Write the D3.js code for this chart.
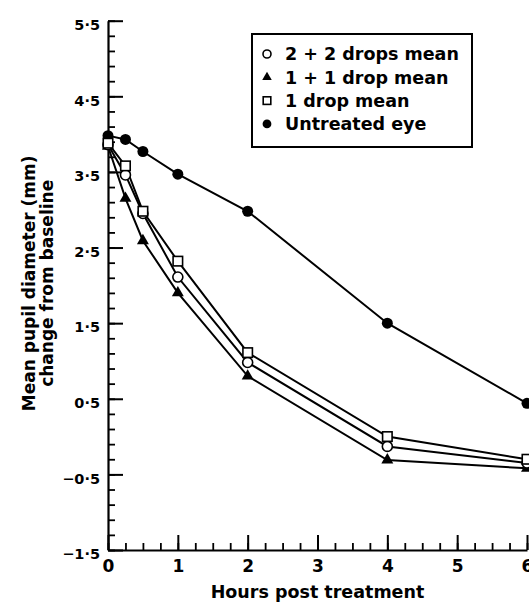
<!DOCTYPE html>
<html>
<head>
<meta charset="utf-8">
<script src="https://cdn.jsdelivr.net/npm/d3@7"></script>
<style>
  html, body { margin: 0; padding: 0; background: #fff; }
  svg { display: block; }
  text { font-family: "DejaVu Sans", "Liberation Sans", Arial, sans-serif; font-weight: bold; fill: #000; }
</style>
</head>
<body>
<svg id="chart" width="529" height="604"></svg>
<script>
// ---- data ----
const hours = [0, 0.25, 0.5, 1, 2, 4, 6];
const seriesNames = ["2 + 2 drops mean", "1 + 1 drop mean", "1 drop mean", "Untreated eye"];
const twoPlusTwo = [3.86, 3.46, 2.95, 2.11, 0.98, -0.13, -0.35];
const onePlusOne = [3.84, 3.15, 2.59, 1.90, 0.80, -0.31, -0.42];
const oneDrop    = [3.88, 3.58, 2.98, 2.32, 1.11, 0.00, -0.30];
const untreated  = [3.98, 3.93, 3.77, 3.47, 2.98, 1.50, 0.44];
const markerTypes = ["openCircle", "triangle", "openSquare", "dot"];
const xTickValues = [0, 1, 2, 3, 4, 5, 6];
const xTickLabels = ["0", "1", "2", "3", "4", "5", "6"];
const yTickValues = [-1.5, -0.5, 0.5, 1.5, 2.5, 3.5, 4.5, 5.5];
const yTickLabels = ["\u22121\u00b75", "\u22120\u00b75", "0\u00b75", "1\u00b75", "2\u00b75", "3\u00b75", "4\u00b75", "5\u00b75"];
const xTitle = "Hours post treatment";
const yTitle = ["Mean pupil diameter (mm)", "change from baseline"];

const seriesValues = [twoPlusTwo, onePlusOne, oneDrop, untreated];

// ---- layout ----
const svg = d3.select("#chart");
const x = d3.scaleLinear().domain([0, 6]).range([108, 527]);
const y = d3.scaleLinear().domain([-1.5, 5.5]).range([550, 20.7]);

const xMinor = d3.range(0, 6.001, 0.25);
const yMinor = d3.range(0, 35.001, 1).map(i => -1.5 + i * 0.2);

// minor ticks
svg.append("g").attr("transform", `translate(0,${y(-1.5)})`)
  .call(d3.axisBottom(x).tickValues(xMinor).tickSizeInner(-7).tickSizeOuter(0).tickFormat(""))
  .call(g => g.select(".domain").remove())
  .call(g => g.selectAll("line").attr("stroke-width", 1.8));
svg.append("g").attr("transform", `translate(${x(0)},0)`)
  .call(d3.axisLeft(y).tickValues(yMinor).tickSizeInner(-7).tickSizeOuter(0).tickFormat(""))
  .call(g => g.select(".domain").remove())
  .call(g => g.selectAll("line").attr("stroke-width", 1.8));

// major axes
const xAxis = svg.append("g").attr("transform", `translate(0,${y(-1.5)})`)
  .call(d3.axisBottom(x).tickValues(xTickValues).tickSizeInner(-15).tickSizeOuter(0).tickPadding(9)
    .tickFormat((d, i) => xTickLabels[i]));
xAxis.attr("font-family", null).attr("font-size", null);
xAxis.select(".domain").attr("stroke-width", 2.2);
xAxis.selectAll("line").attr("stroke-width", 2);
xAxis.selectAll("text").style("font-size", "17px").attr("dy", "0.75em");

const yAxis = svg.append("g").attr("transform", `translate(${x(0)},0)`)
  .call(d3.axisLeft(y).tickValues(yTickValues).tickSizeInner(-15).tickSizeOuter(0).tickPadding(8)
    .tickFormat((d, i) => yTickLabels[i]));
yAxis.attr("font-family", null).attr("font-size", null);
yAxis.select(".domain").attr("stroke-width", 2.2);
yAxis.selectAll("line").attr("stroke-width", 2);
yAxis.selectAll("text").style("font-size", "14.5px").attr("dy", "0.6em");

// titles
svg.append("text").attr("x", (x(0) + x(6)) / 2).attr("y", 598)
  .attr("text-anchor", "middle").style("font-size", "17.5px").text(xTitle);
const yc = (y(-1.5) + y(5.5)) / 2 - 2;
svg.append("text").attr("transform", `translate(35,${yc}) rotate(-90)`)
  .attr("text-anchor", "middle").style("font-size", "17px").text(yTitle[0]);
svg.append("text").attr("transform", `translate(52.5,${yc}) rotate(-90)`)
  .attr("text-anchor", "middle").style("font-size", "17px").text(yTitle[1]);

// lines
const line = d3.line().x((d, i) => x(hours[i])).y(d => y(d));
const drawOrder = [3, 1, 0, 2];
drawOrder.forEach(si => {
  svg.append("path").datum(seriesValues[si])
    .attr("d", line).attr("fill", "none").attr("stroke", "#000").attr("stroke-width", 2);
});

function drawMarker(g, type, cx, cy, scale) {
  if (type === "openCircle") {
    g.append("circle").attr("cx", cx).attr("cy", cy).attr("r", 5 * scale)
      .attr("fill", "#fff").attr("stroke", "#000").attr("stroke-width", 1.6);
  } else if (type === "dot") {
    g.append("circle").attr("cx", cx).attr("cy", cy).attr("r", 5.5 * scale).attr("fill", "#000");
  } else if (type === "openSquare") {
    const s = 9.5 * scale;
    g.append("rect").attr("x", cx - s / 2).attr("y", cy - s / 2).attr("width", s).attr("height", s)
      .attr("fill", "#fff").attr("stroke", "#000").attr("stroke-width", 1.6);
  } else if (type === "triangle") {
    g.append("path").attr("transform", `translate(${cx},${cy})`)
      .attr("d", d3.symbol(d3.symbolTriangle, 62 * scale * scale)()).attr("fill", "#000");
  }
}

const markG = svg.append("g");
drawOrder.forEach(si => {
  seriesValues[si].forEach((v, i) => drawMarker(markG, markerTypes[si], x(hours[i]), y(v), 1));
});

// legend
const lg = svg.append("g");
lg.append("rect").attr("x", 252).attr("y", 34).attr("width", 220).attr("height", 113)
  .attr("fill", "#fff").attr("stroke", "#000").attr("stroke-width", 2);
seriesNames.forEach((name, i) => {
  const ry = 54 + i * 23.3;
  drawMarker(lg, markerTypes[i], 267, ry, 0.8);
  lg.append("text").attr("x", 285).attr("y", ry).attr("dy", "0.36em")
    .style("font-size", "17.5px").text(name);
});
</script>
</body>
</html>
